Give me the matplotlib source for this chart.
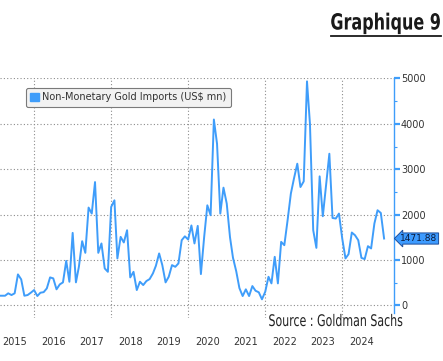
import numpy as np
import pandas as pd
import matplotlib
matplotlib.use("Agg")
from matplotlib import pyplot as plt
from matplotlib.patches import Patch
from matplotlib.lines import Line2D
from matplotlib.patheffects import AbstractPathEffect
from matplotlib.transforms import Affine2D

# monthly non-monetary gold imports (US$ mn), Jan 2015 onwards
imports = [200, 211, 211, 211, 264, 226, 264, 681, 571, 211, 226, 277, 336, 204, 277, 290,
           373, 615, 593, 352, 461, 505, 980, 519, 1596, 505, 848, 1413, 1156, 2154, 2022,
           2716, 1156,
           1363, 813, 738, 2167, 2314, 1033, 1508, 1385, 1655, 615, 738, 336, 519, 446,
           534, 578, 703, 870, 1143, 886, 505, 629, 886, 848, 923, 1435, 1520, 1450, 1760,
           1363, 1750, 688, 1508, 2204, 1985, 4095, 3560, 2022, 2593, 2242,
           1500, 1050, 750, 380, 204,
           352, 204, 424, 321, 286, 132, 299, 629, 483, 1068, 483, 1398, 1325, 1875, 2462,
           2800, 3121, 2607, 2732, 4936, 4000, 1655, 1266, 2842, 1963, 2650, 3341, 1925,
           1912, 2022, 1473, 1033, 1127, 1604, 1545, 1435, 1046, 1018, 1303, 1253, 1802,
           2095, 2035, 1471.88]
dates = pd.date_range("2015-01-01", periods=len(imports), freq="MS")

years = list(range(2015, 2025))
grid_years = [2016, 2018, 2020, 2022, 2024]
y_ticks = [0, 1000, 2000, 3000, 4000, 5000]

LINE_BLUE = "#3f9dfa"
TEXT_DARK = "#333333"
W, H = 443, 361


class Squeeze(AbstractPathEffect):
    # narrows glyphs horizontally around a fixed pixel x (no condensed font installed)
    def __init__(self, sx, x0):
        super().__init__()
        self.sx = sx
        self.x0 = x0

    def draw_path(self, renderer, gc, tpath, affine, rgbFace=None):
        squeeze = Affine2D().translate(-self.x0, 0).scale(self.sx, 1).translate(self.x0, 0)
        renderer.draw_path(gc, tpath, affine + squeeze, rgbFace)


fig = plt.figure(figsize=(W / 100, H / 100), dpi=100)
ax = fig.add_axes([0.0, 1 - 318 / H, 394 / W, 240 / H])

ax.plot(dates, imports, color=LINE_BLUE, lw=1.4, solid_joinstyle="round")

ax.set_xlim(pd.Timestamp("2015-02-12"), pd.Timestamp("2025-05-06"))
ax.set_ylim(-280, 5010)

# year labels sit mid-year, dotted grid at every other january
ax.set_xticks([pd.Timestamp(f"{y}-07-01") for y in years])
ax.set_xticklabels([str(y) for y in years])
ax.set_xticks([pd.Timestamp(f"{y}-01-01") for y in grid_years], minor=True)
ax.tick_params(axis="x", which="both", length=0, labelsize=7, colors=TEXT_DARK, pad=14)
ax.grid(axis="x", which="minor", color="#8c8c8c", ls=(0, (1, 2)), lw=0.8)

ax.yaxis.tick_right()
ax.set_yticks(y_ticks)
ax.set_yticks(np.arange(500, 5000, 1000), minor=True)
ax.tick_params(axis="y", which="major", length=4, width=1.6, color=LINE_BLUE,
               labelsize=7, labelcolor=TEXT_DARK, pad=1)
ax.tick_params(axis="y", which="minor", length=2.5, width=0.8, color=LINE_BLUE)
ax.grid(axis="y", which="major", color="#8c8c8c", ls=(0, (1, 2)), lw=0.8)

for side in ["top", "left", "bottom"]:
    ax.spines[side].set_visible(False)
ax.spines["right"].set_color(LINE_BLUE)
ax.spines["right"].set_linewidth(1.0)
ax.spines["right"].set_bounds(-170, 5010)

handle = Patch(facecolor=LINE_BLUE, edgecolor=LINE_BLUE)
leg = ax.legend([handle], ["Non-Monetary Gold Imports (US$ mn)"], loc="upper left",
                bbox_to_anchor=(0.066, 0.958), borderaxespad=0, fontsize=7,
                handlelength=0.9, handleheight=0.9, handletextpad=0.3,
                borderpad=0.45, fancybox=True, framealpha=1)
leg.get_frame().set_edgecolor("#7a7a7a")
leg.get_frame().set_facecolor("#f2f2f2")
leg.get_frame().set_linewidth(0.8)
for t in leg.get_texts():
    t.set_color(TEXT_DARK)

# last value tag
ax.annotate(f"{imports[-1]:.2f}", xy=(1.0, imports[-1]), xycoords=("axes fraction", "data"),
            xytext=(4.5, 0), textcoords="offset points", ha="left", va="center",
            fontsize=6.5, color="#0b1a3a", annotation_clip=False,
            bbox=dict(boxstyle="larrow,pad=0.12", fc="#3d9bff", ec="#1f4f9a", lw=0.7))

fig.text(441 / W, 1 - 29.5 / H, "Graphique 9", ha="right", va="baseline", fontsize=16,
         fontweight="bold", color="#1a1a1a", path_effects=[Squeeze(0.72, 441)])
fig.add_artist(Line2D([331 / W, 441 / W], [1 - 36 / H, 1 - 36 / H],
                      color="#1a1a1a", lw=1.3))

fig.text(336 / W, 1 - 326 / H, "Source : Goldman Sachs", ha="center", va="baseline",
         fontsize=11.5, color="#222222", path_effects=[Squeeze(0.69, 336)])

fig.savefig("out.png", dpi=100)
